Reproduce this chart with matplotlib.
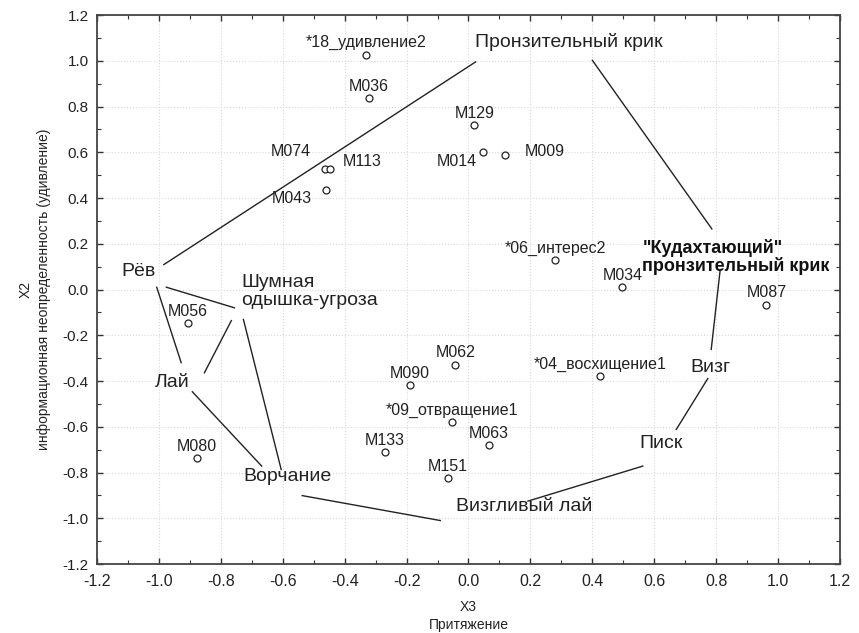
import matplotlib
matplotlib.use("Agg")
import matplotlib.pyplot as plt
from matplotlib.ticker import MultipleLocator

# scored stimuli (X3, X2)
point_names = ["*18_удивление2", "M036", "M129", "M014", "M009", "M074", "M113", "M043",
               "*06_интерес2", "M034", "M087", "M056", "M080", "M062", "M090",
               "*09_отвращение1", "M133", "M151", "M063", "*04_восхищение1"]
point_x = [-0.33, -0.322, 0.019, 0.046, 0.117, -0.463, -0.447, -0.46,
           0.281, 0.497, 0.962, -0.906, -0.878, -0.042, -0.19,
           -0.054, -0.269, -0.066, 0.066, 0.426]
point_y = [1.027, 0.835, 0.717, 0.60, 0.59, 0.525, 0.525, 0.433,
           0.128, 0.012, -0.066, -0.146, -0.737, -0.328, -0.418,
           -0.58, -0.71, -0.825, -0.68, -0.377]

# vocalisation types and where their names sit
call_names = ["Пронзительный крик", "Рёв", "Шумная\nодышка-угроза", "Лай", "Ворчание",
              "Визгливый лай", "Писк", "Визг", "\"Кудахтающий\"\nпронзительный крик"]
call_x = [0.323, -1.066, -0.733, -0.956, -0.585, 0.181, 0.623, 0.782, 0.562]
call_y = [1.084, 0.079, -0.009, -0.407, -0.817, -0.949, -0.673, -0.341, 0.140]

# connecting strokes between the call names: (x0, y0, x1, y1)
links = [
    (-0.984, 0.109, 0.023, 0.995),
    (0.400, 1.002, 0.786, 0.265),
    (0.813, 0.087, 0.784, -0.262),
    (0.773, -0.389, 0.671, -0.612),
    (0.563, -0.772, 0.192, -0.925),
    (-0.091, -1.010, -0.537, -0.901),
    (-0.668, -0.772, -0.892, -0.447),
    (-0.928, -0.320, -1.007, 0.010),
    (-0.976, 0.010, -0.756, -0.080),
    (-0.766, -0.136, -0.853, -0.364),
    (-0.727, -0.131, -0.605, -0.787),
]

plt.rcParams["font.family"] = ["Liberation Sans", "DejaVu Sans"]

fig = plt.figure(figsize=(8.59, 6.33), dpi=100)
ax = fig.add_axes([0.1129, 0.109, 0.865, 0.8673])

for x0, y0, x1, y1 in links:
    ax.plot([x0, x1], [y0, y1], color="#222222", lw=1.0, zorder=2)

ax.plot(point_x, point_y, "o", ms=5, mfc="white", mec="#222222", mew=0.9, zorder=3)

# labels that do not sit straight above their marker (offset in points)
offsets = {"M074": (-25, 13), "M113": (23, 6), "M043": (-25, -6), "M014": (-19, -7),
           "M009": (29, 2)}
for name, x, y in zip(point_names, point_x, point_y):
    dx, dy = offsets.get(name, (0, 3))
    va = "bottom" if name not in offsets else "center"
    ax.annotate(name, (x, y), xytext=(dx, dy), textcoords="offset points",
                ha="center", va=va, fontsize=11.5, color="#222222", zorder=4)

for name, x, y in zip(call_names, call_x, call_y):
    if name.startswith("Шумная"):
        ax.text(x, y, name, ha="left", va="center", fontsize=14, color="#222222",
                linespacing=1.05)
    elif name.startswith("\""):
        ax.text(x, y, name, ha="left", va="center", fontsize=13, fontweight="bold",
                color="#111111", linespacing=1.0)
    else:
        ax.text(x, y, name, ha="center", va="center", fontsize=14, color="#222222")

ax.set_xlim(-1.2, 1.2)
ax.set_ylim(-1.2, 1.2)
ax.xaxis.set_major_locator(MultipleLocator(0.2))
ax.yaxis.set_major_locator(MultipleLocator(0.2))
ax.xaxis.set_minor_locator(MultipleLocator(0.1))
ax.yaxis.set_minor_locator(MultipleLocator(0.1))
ax.xaxis.set_major_formatter(lambda v, pos: f"{v:.1f}")
ax.yaxis.set_major_formatter(lambda v, pos: f"{v:.1f}")
ax.tick_params(which="both", direction="in", top=True, right=True, color="#333333",
               labelcolor="#222222")
ax.tick_params(which="major", length=4, width=1)
ax.tick_params(which="minor", length=3, width=0.8)
ax.tick_params(axis="y", labelsize=11, pad=6)
ax.tick_params(axis="x", labelsize=11.5, pad=7)

ax.grid(True, which="major", color="#d9d9d9", linestyle=":", linewidth=0.8)
ax.set_axisbelow(True)
for sp in ax.spines.values():
    sp.set_color("#444444")
    sp.set_linewidth(1.3)

ax.set_xlabel("X3\nПритяжение", fontsize=10, labelpad=8, linespacing=1.35,
              color="#222222")
ax.set_ylabel("X2\nинформационная неопределенность (удивление)", fontsize=10,
              labelpad=8, linespacing=1.45, color="#222222")

fig.savefig("out.png", dpi=100)
